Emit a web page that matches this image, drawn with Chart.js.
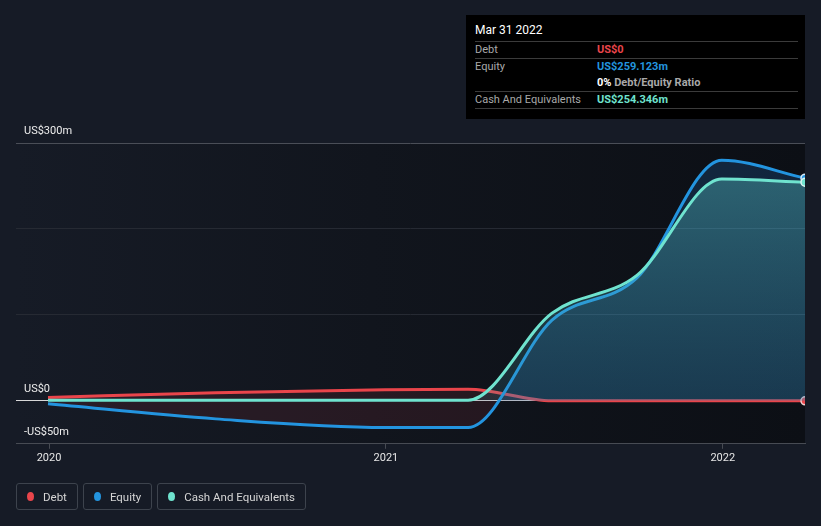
<!DOCTYPE html>
<html>
<head>
<meta charset="utf-8">
<script src="https://cdn.jsdelivr.net/npm/chart.js@4.4.1/dist/chart.umd.min.js"></script>
<style>
  html,body{margin:0;padding:0;background:#161b26;}
  #wrap{position:relative;width:821px;height:526px;overflow:hidden;font-family:Roboto,"Noto Sans",sans-serif;}
  #c{position:absolute;left:0;top:0;}
  #tip{position:absolute;left:466px;top:15px;width:339px;height:104px;background:#000;color:#fff;box-sizing:border-box;padding:0 7px 0 9px;font-size:11px;}
  #tip .title{font-size:12px;color:#fff;height:26px;line-height:31px;border-bottom:1px solid #3b3b3b;}
  #tip .row{display:flex;height:16px;line-height:16px;border-bottom:1px solid #3b3b3b;}
  #tip .row.nb{border-bottom:none;}
  #tip .k{width:122px;color:#a9a9a9;}
  #tip .v{font-weight:bold;}
  #legend{position:absolute;left:16px;top:483px;display:flex;gap:5px;}
  .li{height:27px;box-sizing:border-box;border:1px solid #3d434d;border-radius:3px;display:flex;align-items:center;padding:0 10px 0 10px;color:#d5d5d5;font-size:11.5px;}
  .dot{width:7px;height:9px;border-radius:50%;margin-right:9px;}
</style>
</head>
<body>
<div id="wrap">
  <canvas id="c" width="821" height="526"></canvas>
  <div id="tip"></div>
  <div id="legend"></div>
</div>
<script>
// ---- data (decimal years) ----
const dates  = [2019.997, 2020.495, 2020.997, 2021.244, 2021.493, 2021.745, 2021.997, 2022.244];
const debt   = [4, 9.5, 13, 13.5, 0, 0, 0, 0];
const equity = [-3.5, -21, -31, -31, 94, 143, 280, 259.123];
const cash   = [0.8, 0.8, 0.8, 0.8, 102, 146, 258, 254.346];
const seriesNames  = ['Debt', 'Equity', 'Cash And Equivalents'];
const seriesColors = ['#e9454b', '#2394df', '#6fe3cf'];
const xTickYears = [2020, 2021, 2022];
const yTickValues = [-50, 0, 100, 200, 300];
const yTickLabels = {'-50': '-US$50m', '0': 'US$0', '300': 'US$300m'};
const tipTitle = 'Mar 31 2022';
const tipRows = [
  ['Debt', 'US$0', '#e9454b'],
  ['Equity', 'US$259.123m', '#2394df'],
  ['', '0%|Debt/Equity Ratio', '#ffffff'],
  ['Cash And Equivalents', 'US$254.346m', '#6fe3cf']
];

const pts = arr => arr.map((v, i) => ({x: dates[i], y: v}));
const last = dates.length - 1;

const bgPlugin = {
  id: 'bg',
  beforeDraw(chart) {
    const {ctx, chartArea: a} = chart;
    const g = ctx.createLinearGradient(a.left, 0, a.right, 0);
    g.addColorStop(0, '#161b26');
    g.addColorStop(0.45, '#11151d');
    g.addColorStop(1, '#0c0f15');
    ctx.save();
    ctx.fillStyle = g;
    ctx.fillRect(a.left, a.top, a.right - a.left, a.bottom - a.top);
    ctx.restore();
  }
};

function cashFill(context) {
  const {chart} = context;
  const a = chart.chartArea;
  if (!a) return 'rgba(111,227,207,0.3)';
  const g = chart.ctx.createLinearGradient(0, a.top, 0, a.bottom);
  g.addColorStop(0, 'rgba(90,200,200,0.42)');
  g.addColorStop(1, 'rgba(60,150,170,0.12)');
  return g;
}

const ctx = document.getElementById('c').getContext('2d');
new Chart(ctx, {
  type: 'line',
  data: {
    datasets: [
      {
        label: seriesNames[0], data: pts(debt), borderColor: seriesColors[0], borderWidth: 3,
        fill: {target: 'origin', above: 'rgba(233,69,75,0.10)', below: 'rgba(233,69,75,0.10)'},
        pointRadius: c => c.dataIndex === last ? 4 : 0, pointBackgroundColor: seriesColors[0],
        pointBorderColor: '#f0d0d0', pointBorderWidth: 1.5, clip: 0, order: 3
      },
      {
        label: seriesNames[1], data: pts(equity), borderColor: seriesColors[1], borderWidth: 3,
        fill: {target: 'origin', above: 'rgba(35,120,200,0.22)', below: 'rgba(150,50,60,0.16)'},
        pointRadius: c => c.dataIndex === last ? 4 : 0, pointBackgroundColor: seriesColors[1],
        pointBorderColor: '#d8eaf5', pointBorderWidth: 1.5, clip: 0, order: 2
      },
      {
        label: seriesNames[2], data: pts(cash), borderColor: seriesColors[2], borderWidth: 3,
        fill: {target: 'origin', above: cashFill, below: cashFill},
        pointRadius: c => c.dataIndex === last ? 4 : 0, pointBackgroundColor: seriesColors[2],
        pointBorderColor: '#e0f5f2', pointBorderWidth: 1.5, clip: 0, order: 1
      }
    ]
  },
  options: {
    responsive: false,
    animation: false,
    layout: {padding: {top: 143, left: 0, right: 16, bottom: 58}},
    plugins: {legend: {display: false}, tooltip: {enabled: false}},
    elements: {line: {cubicInterpolationMode: 'monotone'}},
    scales: {
      x: {
        type: 'linear', min: 2019.902, max: 2022.244,
        afterBuildTicks: s => { s.ticks = xTickYears.map(v => ({value: v})); },
        grid: {drawOnChartArea: false, drawTicks: true, tickLength: 5, color: '#474b53'},
        border: {display: true, color: '#474b53'},
        ticks: {color: '#e6e6e6', font: {family: 'Roboto', size: 11}, padding: 3, callback: v => String(v), maxRotation: 0}
      },
      y: {
        min: -50, max: 300,
        afterBuildTicks: s => { s.ticks = yTickValues.map(v => ({value: v})); },
        grid: {
          drawTicks: false,
          color: c => c.tick.value === 0 ? '#d8d8d8' : (c.tick.value === 300 ? '#4a4e57' : (c.tick.value === -50 ? '#474b53' : '#262a33'))
        },
        border: {display: false},
        ticks: {
          mirror: true, padding: 8, labelOffset: -12, color: '#ededed',
          font: {family: 'Roboto', size: 11},
          callback: v => yTickLabels[String(v)] || ''
        }
      }
    }
  },
  plugins: [bgPlugin]
});

// tooltip panel
const tip = document.getElementById('tip');
let html = '<div class="title">' + tipTitle + '</div>';
tipRows.forEach((r, i) => {
  let val;
  if (r[1].indexOf('|') >= 0) {
    const p = r[1].split('|');
    val = '<span class="v" style="color:#fff">' + p[0] + '</span> <span style="color:#a9a9a9;font-weight:bold">' + p[1] + '</span>';
  } else {
    val = '<span class="v" style="color:' + r[2] + '">' + r[1] + '</span>';
  }
  const nb = (i === 1) ? ' nb' : '';
  html += '<div class="row' + nb + '"><div class="k">' + r[0] + '</div><div>' + val + '</div></div>';
});
tip.innerHTML = html;

// legend
const lg = document.getElementById('legend');
seriesNames.forEach((n, i) => {
  const d = document.createElement('div');
  d.className = 'li';
  d.innerHTML = '<span class="dot" style="background:' + seriesColors[i] + '"></span><span>' + n + '</span>';
  lg.appendChild(d);
});
</script>
</body>
</html>
